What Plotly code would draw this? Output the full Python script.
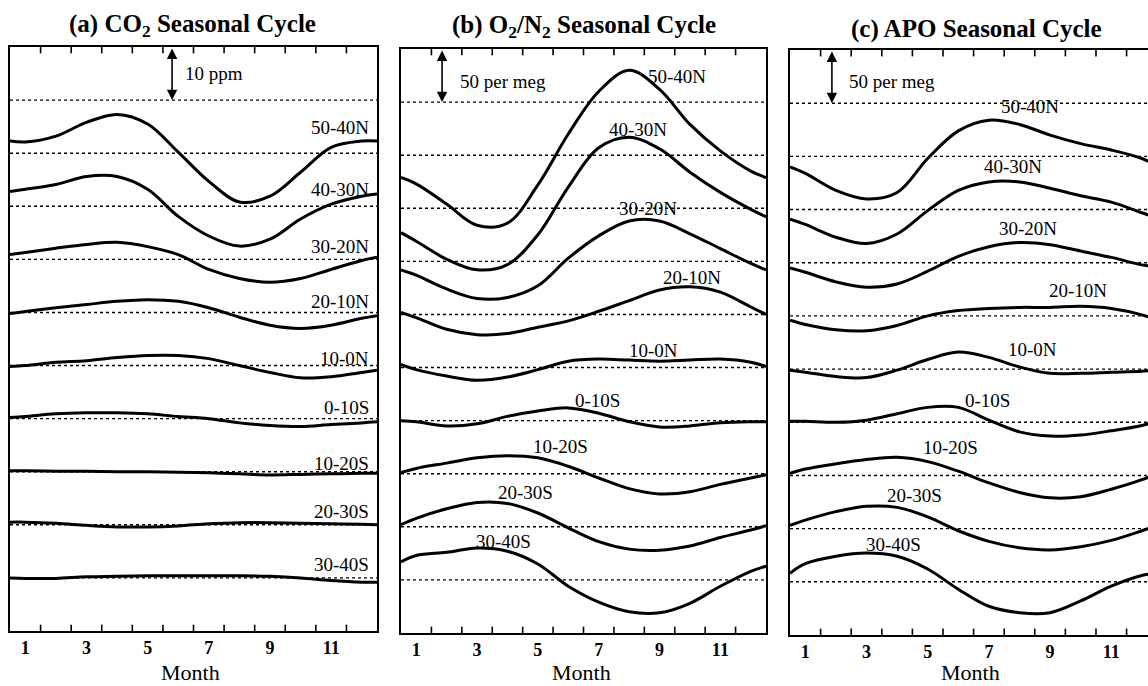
import plotly.graph_objects as go

# ---------------- data ----------------
months = [0.5, 1, 2, 3, 4, 5, 6, 7, 8, 9, 10, 11, 12, 12.5]
bands = ["50-40N", "40-30N", "30-20N", "20-10N", "10-0N",
         "0-10S", "10-20S", "20-30S", "30-40S"]
tick_months = [1, 3, 5, 7, 9, 11]

# CO2 seasonal cycle (ppm), one row per latitude band
co2_ppm = [
    [2.3, 2.1, 3.2, 5.8, 7.3, 5.5, 0.2, -5.3, -9.2, -8.1, -3.6, 1.1, 2.3, 2.3],
    [2.8, 3.2, 4.1, 5.6, 5.6, 3.2, -1.9, -5.6, -7.5, -6.2, -2.4, 0.4, 1.9, 2.3],
    [0.9, 1.3, 2.1, 2.8, 3.2, 2.4, 0.9, -1.9, -3.6, -4.3, -3.6, -1.9, -0.2, 0.4],
    [-0.2, 0.2, 0.9, 1.5, 2.1, 2.4, 2.1, 0.9, -0.9, -2.4, -3.0, -2.4, -1.1, -0.6],
    [-0.2, 0.0, 0.6, 0.9, 1.5, 1.9, 1.9, 1.3, 0.0, -1.3, -2.3, -2.1, -1.3, -0.9],
    [0.2, 0.4, 0.9, 1.1, 1.1, 0.9, 0.4, 0.0, -0.8, -1.3, -1.5, -1.1, -0.8, -0.6],
    [0.2, 0.2, 0.1, 0.1, 0.0, 0.0, -0.1, -0.2, -0.4, -0.6, -0.5, -0.4, -0.3, -0.3],
    [0.5, 0.5, 0.3, -0.1, -0.4, -0.4, -0.2, 0.2, 0.4, 0.4, 0.3, 0.2, 0.1, 0.0],
    [0.0, -0.1, -0.1, 0.2, 0.3, 0.4, 0.4, 0.4, 0.4, 0.3, 0.0, -0.5, -0.8, -0.8],
]

# O2/N2 seasonal cycle (per meg)
o2n2_permeg = [
    [-21, -27, -46, -66, -64, -28, 20, 60, 80, 62, 29, 4, -15, -21],
    [-23, -31, -48, -58, -53, -25, 20, 57, 67, 56, 34, 15, -1, -8],
    [-8, -13, -26, -35, -34, -23, 3, 24, 38, 38, 26, 12, -2, -8],
    [2, -3, -14, -19, -18, -12, -6, 3, 13, 23, 26, 21, 7, 0],
    [3, -2, -8, -12, -9, -2, 6, 8, 7, 6, 7, 8, 5, 1],
    [0, -1, -5, -3, 4, 9, 12, 7, -1, -6, -5, -2, -1, -1],
    [1, 5, 10, 15, 17, 15, 7, -4, -14, -19, -17, -10, -4, -1],
    [2, 8, 17, 23, 22, 13, -1, -14, -21, -22, -18, -10, -3, 1],
    [17, 23, 26, 30, 27, 15, -6, -21, -30, -31, -22, -6, 8, 13],
]

# APO seasonal cycle (per meg)
apo_permeg = [
    [-10, -16, -32, -40, -34, -2, 24, 34, 30, 20, 12, 6, -2, -9],
    [-9, -14, -26, -32, -23, -1, 18, 26, 26, 20, 13, 7, -3, -8],
    [-5, -9, -18, -23, -20, -8, 6, 15, 19, 17, 11, 5, -2, -4],
    [-4, -8, -13, -14, -9, 0, 5, 7, 8, 8, 9, 7, 1, -4],
    [-1, -3, -7, -8, -1, 9, 16, 11, 2, -4, -4, -3, -2, -1],
    [1, 1, 0, 2, 8, 14, 14, 2, -9, -13, -12, -8, -3, 1],
    [2, 6, 11, 15, 17, 13, 4, -7, -16, -21, -20, -13, -4, 2],
    [3, 8, 16, 21, 20, 11, -2, -12, -18, -20, -17, -11, -2, 3],
    [8, 17, 24, 27, 24, 12, -7, -23, -29, -29, -18, -4, 6, 8],
]

panels = [
    dict(values=co2_ppm, spacing=10.0, scale_text="10 ppm",
         title="<b>(a) CO<sub>2</sub> Seasonal Cycle</b>"),
    dict(values=o2n2_permeg, spacing=50.0, scale_text="50 per meg",
         title="<b>(b) O<sub>2</sub>/N<sub>2</sub> Seasonal Cycle</b>"),
    dict(values=apo_permeg, spacing=50.0, scale_text="50 per meg",
         title="<b>(c) APO Seasonal Cycle</b>"),
]

# ---------------- layout settings ----------------
SERIF = "Liberation Serif"
W, H = 1148, 686
x_domains = [[10 / W, 377 / W], [401 / W, 766 / W], [790 / W, 1.0]]
y_domains = [[1 - 631 / H, 1 - 47 / H], [1 - 633 / H, 1 - 49 / H], [1 - 635 / H, 1 - 50 / H]]
x_ranges = [[0.5, 12.5], [0.5, 12.5], [0.5, 12.2]]
title_pos = [(192, 25), (584, 27), (976, 29)]
month_pos = [190, 581, 970]
arrow_x = [5.80, 1.85, 1.87]
scale_text_pos = [(6.16, 10.51), (2.375, 10.38), (2.36, 10.40)]

# tick marks sit on month boundaries (drawn as short marks in band units)
tick_marks = [m + 0.5 for m in range(1, 12)]
TICK_LEN = 0.12  # in band units (~6 px)

# band label positions (x in months, y offset above its baseline in band units)
label_x = [
    [12.3] * 9,
    [9.58, 8.30, 8.63, 10.07, 8.79, 6.95, 5.73, 4.58, 3.86],
    [8.34, 7.79, 8.28, 9.91, 8.44, 6.94, 5.73, 4.58, 3.87],
]
label_dy = [
    [0.49, 0.32, 0.245, 0.21, 0.13, 0.21, 0.15, 0.26, 0.245],
    [1.49, 1.49, 1.0, 0.70, 0.32, 0.38, 0.51, 0.64, 0.73],
    [0.94, 0.81, 0.64, 0.47, 0.375, 0.41, 0.525, 0.62, 0.71],
]

n_bands = len(bands)
y_top = n_bands + 2
fig = go.Figure()
shapes = []
annotations = []

for p, panel in enumerate(panels):
    sfx = "" if p == 0 else str(p + 1)
    xref, yref = "x" + sfx, "y" + sfx
    # curves
    for i, band in enumerate(bands):
        base = n_bands - i
        ys = [base + v / panel["spacing"] for v in panel["values"][i]]
        fig.add_trace(go.Scatter(
            x=months, y=ys, mode="lines", name=band,
            line=dict(color="black", width=3, shape="spline", smoothing=1.0),
            xaxis=xref, yaxis=yref, showlegend=False, hoverinfo="skip"))
        # band label
        annotations.append(dict(
            x=label_x[p][i], y=base + label_dy[p][i], xref=xref, yref=yref,
            text=band, showarrow=False,
            xanchor="right" if p == 0 else "center", yanchor="middle",
            font=dict(family=SERIF, size=19, color="black")))
    # dotted baselines (one per band + the scale reference line)
    for k in range(1, n_bands + 2):
        shapes.append(dict(
            type="line", xref=xref + " domain", yref=yref,
            x0=0, x1=1, y0=k, y1=k,
            line=dict(color="black", width=1.4, dash="dot"), layer="below"))
    # inward tick marks on bottom and top borders at month boundaries
    for t in tick_marks:
        if t > x_ranges[p][1]:
            continue
        shapes.append(dict(type="line", xref=xref, yref=yref,
                           x0=t, x1=t, y0=0, y1=TICK_LEN,
                           line=dict(color="black", width=1.6)))
        shapes.append(dict(type="line", xref=xref, yref=yref,
                           x0=t, x1=t, y0=y_top, y1=y_top - TICK_LEN,
                           line=dict(color="black", width=1.6)))
    # scale arrow
    annotations.append(dict(
        x=arrow_x[p], y=n_bands + 1, ax=arrow_x[p], ay=n_bands + 2,
        xref=xref, yref=yref, axref=xref, ayref=yref, text="",
        showarrow=True, arrowhead=2, arrowside="end+start",
        arrowsize=1.3, arrowwidth=1.6, arrowcolor="black"))
    annotations.append(dict(
        x=scale_text_pos[p][0], y=scale_text_pos[p][1], xref=xref, yref=yref,
        text=panel["scale_text"], showarrow=False, xanchor="left", yanchor="middle",
        font=dict(family=SERIF, size=19, color="black")))
    # title
    annotations.append(dict(
        x=title_pos[p][0] / W, y=1 - title_pos[p][1] / H, xref="paper", yref="paper",
        text=panel["title"], showarrow=False, xanchor="center", yanchor="middle",
        font=dict(family=SERIF, size=25, color="black")))
    # x-axis title
    annotations.append(dict(
        x=month_pos[p] / W, y=1 - 672 / H, xref="paper", yref="paper",
        text="Month", showarrow=False, xanchor="center", yanchor="middle",
        font=dict(family=SERIF, size=22, color="black")))

    fig.update_layout({
        "xaxis" + sfx: dict(
            domain=x_domains[p], range=x_ranges[p], anchor=yref,
            tickmode="array", tickvals=tick_months, ticks="",
            ticklabelstandoff=0,
            tickfont=dict(family=SERIF, size=18, color="black", weight="bold"),
            showgrid=False, zeroline=False, showline=True, linecolor="black",
            linewidth=1.6, mirror=True, fixedrange=True),
        "yaxis" + sfx: dict(
            domain=y_domains[p], range=[0, y_top], anchor=xref,
            showticklabels=False, ticks="", showgrid=False, zeroline=False,
            showline=True, linecolor="black", linewidth=1.6,
            mirror=(p < 2), fixedrange=True),
    })

fig.update_layout(
    width=W, height=H, autosize=False,
    margin=dict(l=0, r=0, t=0, b=0),
    paper_bgcolor="white", plot_bgcolor="white",
    showlegend=False, shapes=shapes, annotations=annotations,
    font=dict(family=SERIF, color="black"),
)

fig.write_html("out.html")
